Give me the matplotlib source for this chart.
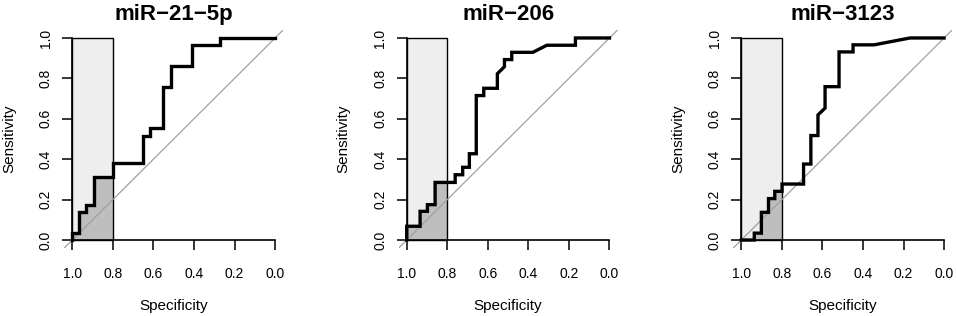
import matplotlib
matplotlib.use("Agg")
import matplotlib.pyplot as plt
from matplotlib.patches import Rectangle

plt.rcParams['font.family'] = ['Liberation Sans', 'DejaVu Sans']

titles = ["miR\u221221\u22125p", "miR\u2212206", "miR\u22123123"]

# ROC points (specificity, sensitivity)
spec_21 = [1.0, 1.0, 0.969, 0.969, 0.932, 0.932, 0.894, 0.894, 0.797, 0.797,
           0.653, 0.653, 0.619, 0.619, 0.553, 0.553, 0.515, 0.515, 0.411, 0.411,
           0.272, 0.272, 0.0]
sens_21 = [0.0, 0.034, 0.034, 0.138, 0.138, 0.172, 0.172, 0.310, 0.310, 0.379,
           0.379, 0.517, 0.517, 0.552, 0.552, 0.759, 0.759, 0.862, 0.862, 0.966,
           0.966, 1.0, 1.0]

spec_206 = [1.0, 1.0, 0.934, 0.934, 0.898, 0.898, 0.860, 0.860, 0.761, 0.761,
            0.724, 0.724, 0.691, 0.691, 0.657, 0.657, 0.620, 0.620, 0.553, 0.553,
            0.518, 0.518, 0.482, 0.482, 0.378, 0.309, 0.168, 0.168, 0.0]
sens_206 = [0.0, 0.068, 0.068, 0.142, 0.142, 0.175, 0.175, 0.285, 0.285, 0.323,
            0.323, 0.360, 0.360, 0.427, 0.427, 0.715, 0.715, 0.751, 0.751, 0.823,
            0.858, 0.893, 0.893, 0.929, 0.929, 0.964, 0.964, 1.0, 1.0]

spec_3123 = [1.0, 0.936, 0.936, 0.901, 0.901, 0.866, 0.866, 0.835, 0.835, 0.799,
             0.799, 0.693, 0.693, 0.657, 0.657, 0.622, 0.622, 0.587, 0.587, 0.518,
             0.518, 0.449, 0.449, 0.345, 0.168, 0.0]
sens_3123 = [0.0, 0.0, 0.034, 0.034, 0.137, 0.137, 0.205, 0.205, 0.241, 0.241,
             0.277, 0.277, 0.376, 0.376, 0.517, 0.517, 0.619, 0.653, 0.759, 0.759,
             0.931, 0.931, 0.966, 0.966, 1.0, 1.0]

specs = [spec_21, spec_206, spec_3123]
senss = [sens_21, sens_206, sens_3123]

ticks = [0.0, 0.2, 0.4, 0.6, 0.8, 1.0]
tick_labels = ["0.0", "0.2", "0.4", "0.6", "0.8", "1.0"]
focus = 0.8  # partial AUC limit

fig = plt.figure(figsize=(9.57, 3.16), dpi=100)
lefts = [64.2, 398.6, 733.2]

for i in range(3):
    ax = fig.add_axes([lefts[i] / 957, 0.2149, 219 / 957, 0.6905])
    ax.set_xlim(1.04, -0.04)
    ax.set_ylim(-0.04, 1.04)

    # max partial AUC area
    ax.add_patch(Rectangle((focus, 0), 1 - focus, 1, facecolor='#EEEEEE',
                           edgecolor='none', zorder=1))
    clip = Rectangle((focus, 0), 1 - focus, 1, transform=ax.transData)
    poly = ax.fill(specs[i] + [0.0, 1.0], senss[i] + [0.0, 0.0],
                   color='#BEBEBE', lw=0, zorder=2)[0]
    poly.set_clip_path(clip)
    ax.add_patch(Rectangle((focus, 0), 1 - focus, 1, facecolor='none',
                           edgecolor='black', lw=1.0, zorder=3))

    ax.plot([1.2, -0.2], [-0.2, 1.2], color='#A0A0A0', lw=0.9, zorder=3)
    ax.plot(specs[i], senss[i], color='black', lw=2.4, zorder=4,
            solid_joinstyle='miter')

    for s in ['top', 'right']:
        ax.spines[s].set_visible(False)
    ax.spines['left'].set_position(('data', 1.0))
    ax.spines['bottom'].set_position(('data', 0.0))
    ax.spines['left'].set_bounds(0, 1)
    ax.spines['bottom'].set_bounds(0, 1)
    for s in ['left', 'bottom']:
        ax.spines[s].set_linewidth(1.2)
        ax.spines[s].set_zorder(5)

    ax.set_xticks(ticks)
    ax.set_xticklabels(tick_labels)
    ax.set_yticks(ticks)
    ax.set_yticklabels(tick_labels, rotation=90, va='center')
    ax.tick_params(direction='out', length=7, width=1.1, labelsize=10,
                   colors='black')
    ax.tick_params(axis='x', pad=12.5)
    ax.tick_params(axis='y', pad=7)
    ax.patch.set_visible(False)

    ax.text(0.5, 1.072, titles[i], transform=ax.transAxes, ha='center',
            va='center', fontsize=16, fontweight='bold')
    ax.text(0.5, -0.265, "Specificity", transform=ax.transAxes, ha='center',
            va='center', fontsize=11)
    ax.text(-0.25, 0.5, "Sensitivity", transform=ax.transAxes, ha='center',
            va='center', rotation=90, fontsize=11)

fig.savefig("out.png", dpi=100)
